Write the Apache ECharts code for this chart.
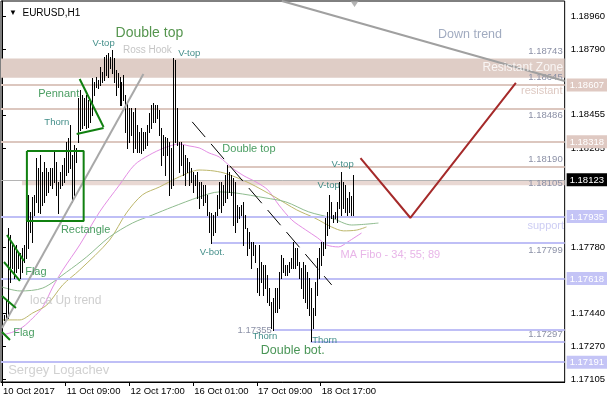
<!DOCTYPE html>
<html><head><meta charset="utf-8">
<script src="https://cdn.jsdelivr.net/npm/echarts@6/dist/echarts.min.js"></script>
<style>html,body{margin:0;padding:0;background:#fff}#c{width:610px;height:400px}</style>
</head><body><div id="c"></div>
<script>
// ---- data (hourly bars, EURUSD H1) ----
const highs = [
1.17438,1.17432,1.17509,1.17877,1.17841,1.17790,1.17775,1.17790,1.17754,1.17749,
1.17775,1.17790,1.18010,1.18046,1.17959,1.18035,1.18046,1.18235,1.18184,1.18250,
1.18163,1.18214,1.18184,1.18163,1.18184,1.18184,1.18265,1.18214,1.18112,1.18163,
1.18199,1.18235,1.18316,1.18337,1.18403,1.18250,1.18301,1.18286,1.18541,1.18582,
1.18557,1.18541,1.18557,1.18531,1.18521,1.18643,1.18623,1.18649,1.18633,1.18700,
1.18674,1.18751,1.18761,1.18771,1.18751,1.18786,1.18746,1.18684,1.18669,1.18649,
1.18623,1.18659,1.18557,1.18521,1.18490,1.18490,1.18470,1.18490,1.18403,1.18368,
1.18388,1.18368,1.18368,1.18403,1.18465,1.18505,1.18516,1.18505,1.18505,1.18480,
1.18388,1.18352,1.18342,1.18337,1.18316,1.18286,1.18746,1.18735,1.18490,1.18316,
1.18316,1.18301,1.18250,1.18235,1.18214,1.18184,1.18163,1.18148,1.18163,1.18112,
1.18112,1.18097,1.18097,1.18046,1.17959,1.17954,1.17943,1.17959,1.18046,1.18112,
1.18112,1.18097,1.18148,1.18199,1.18163,1.18148,1.18132,1.18112,1.17994,1.17984,
1.17994,1.18010,1.17943,1.17877,1.17857,1.17805,1.17805,1.17790,1.17673,1.17790,
1.17703,1.17688,1.17688,1.17637,1.17570,1.17499,1.17519,1.17570,1.17570,1.17652,
1.17739,1.17724,1.17688,1.17688,1.17703,1.17724,1.17805,1.17775,1.17775,1.17703,
1.17673,1.17703,1.17688,1.17652,1.17621,1.17570,1.17468,1.17601,1.17724,1.17775,
1.17805,1.17805,1.17928,1.17959,1.18046,1.18010,1.17943,1.17959,1.18010,1.18112,
1.18163,1.18112,1.18097,1.18030,1.18061,1.18040,1.18148
];
const lows = [
1.17402,1.17407,1.17417,1.17417,1.17601,1.17673,1.17621,1.17652,1.17673,1.17621,
1.17652,1.17703,1.17724,1.17775,1.17857,1.17805,1.17943,1.18010,1.17959,1.17954,
1.17994,1.18010,1.18046,1.18061,1.18097,1.18081,1.18112,1.18046,1.17954,1.18081,
1.18097,1.18112,1.18148,1.18163,1.18184,1.18010,1.18046,1.18214,1.18316,1.18378,
1.18388,1.18403,1.18388,1.18393,1.18419,1.18454,1.18557,1.18597,1.18592,1.18608,
1.18623,1.18633,1.18659,1.18649,1.18695,1.18669,1.18623,1.18557,1.18597,1.18505,
1.18505,1.18531,1.18368,1.18286,1.18316,1.18352,1.18265,1.18286,1.18265,1.18265,
1.18260,1.18276,1.18286,1.18301,1.18368,1.18388,1.18419,1.18419,1.18439,1.18352,
1.18199,1.18250,1.18148,1.18250,1.18046,1.18081,1.18097,1.18316,1.18301,1.18163,
1.18199,1.18148,1.18097,1.18163,1.18097,1.18112,1.18061,1.18097,1.18030,1.17979,
1.18030,1.17994,1.18010,1.17943,1.17857,1.17800,1.17841,1.17857,1.17943,1.17979,
1.17959,1.17994,1.18010,1.18030,1.18061,1.18046,1.17892,1.17857,1.17908,1.17928,
1.17943,1.17790,1.17877,1.17739,1.17775,1.17673,1.17739,1.17703,1.17550,1.17535,
1.17601,1.17535,1.17570,1.17499,1.17483,1.17366,1.17355,1.17448,1.17448,1.17468,
1.17621,1.17652,1.17637,1.17637,1.17652,1.17673,1.17673,1.17673,1.17688,1.17621,
1.17570,1.17519,1.17499,1.17468,1.17432,1.17297,1.17366,1.17432,1.17535,1.17621,
1.17688,1.17739,1.17775,1.17841,1.17877,1.17928,1.17908,1.17928,1.17908,1.17979,
1.17943,1.17979,1.17959,1.17943,1.17959,1.17943,1.17943
];
const dateLabels = ['10 Oct 2017','11 Oct 09:00','12 Oct 17:00','16 Oct 01:00','17 Oct 09:00','18 Oct 17:00'];
const dateTickIdx = [0,32,64,96,128,160];
const priceTicks = [1.18960,1.18790,1.18455,1.18285,1.17780,1.17440,1.17270,1.17105];
const boxLevels = [1.18607,1.18318,1.18123,1.17935,1.17618,1.17191];
const boxKinds  = ['pk','pk','bk','lv','lv','lv'];
const currentPrice = 1.18123;

// moving averages (34 / 55 / 89)
const ma34 = [[0,1.17330],[5.5,1.17345],[10.5,1.17371],[15.5,1.17417],[20.5,1.17473],[25.5,1.17575],[30.5,1.17662],[39,1.17790],[49,1.17959],[59,1.18097],[66.5,1.18199],[74,1.18250],[81.5,1.18286],[89,1.18306],[94,1.18296],[99,1.18286],[104,1.18260],[109,1.18240],[115.5,1.18184],[121.5,1.18143],[127.5,1.18112],[133.5,1.18071],[139,1.17994],[145.5,1.17918],[152.5,1.17867],[158.5,1.17826],[163,1.17790],[169,1.17780],[173.5,1.17805],[180.5,1.17851]];
const ma55 = [[0,1.17407],[9,1.17407],[15.5,1.17443],[22.5,1.17483],[30.5,1.17586],[39,1.17662],[54,1.17815],[62.5,1.17954],[70.5,1.18046],[79,1.18086],[89,1.18138],[99,1.18173],[106.5,1.18168],[113,1.18153],[124,1.18107],[137,1.18035],[148,1.17969],[157,1.17928],[165.5,1.17882],[171.5,1.17862],[178,1.17866],[183,1.17882]];
const ma89 = [[0,1.17575],[9,1.17555],[20.5,1.17570],[32.5,1.17652],[42.5,1.17729],[54,1.17831],[65.5,1.17902],[75.5,1.17943],[85.5,1.17984],[99,1.18035],[109,1.18061],[117,1.18056],[132.5,1.18030],[142.5,1.18010],[154,1.17959],[165.5,1.17928],[175.5,1.17892],[189,1.17902]];

// horizontal levels
const resistZone = [1.18743, 1.18645];
const resistLevels = [1.18607, 1.18486, 1.18318, 1.18190];
const resistFrom   = [null, null, null, 113];
const bandLevel = [1.18120, 1.18095];   // thick band under 1.18105
const bandMid = 1.18105;
const bandFrom = 10;
const supportLevels = [1.17935, 1.17799, 1.17618, 1.17355, 1.17297, 1.17191];
const supportFrom   = [null, 105.5, null, 136.5, 155, null];

// drawn figures (bar index, price)
const flagLines = [[[2.5,1.17841],[11,1.17708]],[[1,1.17703],[9,1.17606]],[[0,1.17529],[7,1.17468]],[[0,1.17345],[4,1.17304]]];
const pennantLines = [[[39,1.18638],[51,1.18393]],[[37.5,1.18357],[51,1.18388]]];
const rectangleBox = [[12.5,1.18270],[41,1.17913]];
const upTrend = [[0,1.17366],[71,1.18664]];
const downTrend = [[140.5,1.19037],[282.5,1.18628]];
const forecast = [[180,1.18234],[205,1.17929],[258,1.18618]];
const slopeLine = [[95.5,1.18419],[165.5,1.17586]];
const shiftMarker = [177, 1.19022];

// text annotations: text, bar index, price, style key
const notes = [
 ['Double top',74,1.18873,'big'],
 ['Ross Hook',73,1.18786,'gray10'],
 ['V-top',51,1.18822,'teal'],
 ['V-top',94,1.18771,'teal'],
 ['Pennant',28.5,1.18562,'grn'],
 ['Thorn',27.5,1.18419,'teal'],
 ['Rectangle',42,1.17866,'grn'],
 ['Flag',17,1.17652,'grn'],
 ['Flag',11,1.17340,'grn'],
 ['loca Up trend',32,1.17504,'gray12'],
 ['Sergey Logachev',28.5,1.17151,'sig'],
 ['Double top',124,1.18281,'grn'],
 ['V-top',171,1.18204,'teal'],
 ['V-top',164,1.18097,'teal'],
 ['V-bot.',105.5,1.17754,'teal'],
 ['Thorn',132,1.17325,'teal'],
 ['Thorn',162,1.17304,'teal'],
 ['Double bot.',146,1.17248,'grn13'],
 ['MA Fibo - 34; 55; 89',195,1.17739,'ma'],
 ['support',273,1.17887,'sup'],
 ['resistant',271,1.18577,'res'],
 ['Resistant Zone',261.5,1.18695,'white'],
 ['Down trend',235,1.18863,'down']
];
const levelLabels = {1.18743:'insideEndTop',1.18645:'insideEnd',1.18486:'insideEndBottom',1.18190:'insideEndTop',1.18105:'insideEnd',1.17799:'insideEndBottom',1.17355:'start',1.17297:'insideEndTop'};

// ---- styles ----
const FF = 'Liberation Sans';
const X_MIN = -0.5, X_MAX = 282.5;
const Y_MIN = 1.170897, Y_MAX = 1.190367;
const noteStyles = {
 big:{color:'#2a7a22',fontSize:14}, teal:{color:'#12706a',fontSize:9.5}, grn:{color:'#1c843a',fontSize:11},
 gray10:{color:'#b6b6b6',fontSize:10}, gray12:{color:'#c2c2c2',fontSize:12}, sig:{color:'#c6c6c6',fontSize:13},
 grn13:{color:'#1c7a2c',fontSize:12.5}, ma:{color:'#e2a2e2',fontSize:11}, sup:{color:'#c0c0f0',fontSize:11},
 res:{color:'#d4bab2',fontSize:11}, white:{color:'#ffffff',fontSize:12}, down:{color:'#8a96b0',fontSize:12.5}
};
const PINK = '#dcc7bf', LAV = '#bfbff6';
function lvlLabel(p){
  const pos = levelLabels[p];
  if (!pos) return {show:false};
  return {show:true, position:pos, formatter:p.toFixed(5), color:'#8b90a6', fontSize:9.5, fontFamily:FF, distance:2, opacity:1};
}
function hline(p, from, lineStyle){
  return [{coord:[from == null ? X_MIN : from, p], lineStyle, label:lvlLabel(p)}, {coord:[X_MAX, p]}];
}
const levelData = [];
resistLevels.forEach((p,k)=>levelData.push(hline(p, resistFrom[k], {color:PINK, width:2, type:'solid'})));
supportLevels.forEach((p,k)=>levelData.push(hline(p, supportFrom[k], {color:LAV, width:2, type:'solid'})));
levelData.push([{coord:[X_MIN,currentPrice], lineStyle:{color:'#b4b4b4',width:1,type:'solid'}, label:{show:false}},{coord:[X_MAX,currentPrice]}]);
// labels for zone edges & band (their lines are the shaded areas)
[resistZone[0], resistZone[1], bandMid].forEach(p=>levelData.push(hline(p, null, {color:'rgba(0,0,0,0)', width:1, type:'solid'})));

function lineSeries(data, color, width, extra){
  return Object.assign({type:'line', data, symbol:'none', silent:true, animation:false, z:6,
    lineStyle:{color, width}}, extra||{});
}
const series = [];
series.push({
  type:'line', data:[[X_MIN, Y_MIN]], symbol:'none', silent:true, animation:false, z:1,
  lineStyle:{opacity:0},
  markArea:{silent:true, data:[
    [{coord:[X_MIN,resistZone[0]], itemStyle:{color:'#dfcdc6'}},{coord:[X_MAX,resistZone[1]]}],
    [{coord:[bandFrom,bandLevel[0]], itemStyle:{color:'#e9d8d3'}},{coord:[X_MAX,bandLevel[1]]}]
  ]},
  markLine:{silent:true, symbol:['none','none'], animation:false, data:levelData}
});
// MAs
series.push(lineSeries(ma34,'#e48ee4',1,{smooth:0.3,z:3}));
series.push(lineSeries(ma55,'#bdb76b',1,{smooth:0.3,z:3}));
series.push(lineSeries(ma89,'#8fbc8f',1,{smooth:0.3,z:3}));
// price bars
series.push({
  type:'custom', z:5, silent:true, animation:false,
  data: highs.map((h,k)=>[k,h,lows[k]]),
  encode:{x:0, y:[1,2]},
  renderItem(params, api){
    const a = api.coord([api.value(0), api.value(1)]);
    const b = api.coord([api.value(0), api.value(2)]);
    const x = Math.round(a[0]) + 0.5;
    return {type:'line', shape:{x1:x, y1:Math.round(a[1]), x2:x, y2:Math.round(b[1])+1}, style:{stroke:'#000', lineWidth:1}};
  }
});
// trend lines and figures
series.push(lineSeries(upTrend,'#a8a8a8',2));
series.push(lineSeries(downTrend,'#a0a0a0',2));
series.push(lineSeries(slopeLine,'#000',1,{lineStyle:{color:'#000',width:1,type:[20,9]}}));
series.push(lineSeries(forecast,'#a52a2a',2,{z:7}));
flagLines.concat(pennantLines).forEach(l=>series.push(lineSeries(l,'#108010',2,{z:7})));
const r = rectangleBox;
series.push(lineSeries([[r[0][0],r[0][1]],[r[1][0],r[0][1]],[r[1][0],r[1][1]],[r[0][0],r[1][1]],[r[0][0],r[0][1]]],'#108010',2,{z:7}));
// shift marker
series.push({type:'scatter', data:[shiftMarker], symbol:'triangle', symbolRotate:180, symbolSize:[8,6],
  itemStyle:{color:'#a0a0a0'}, silent:true, animation:false, z:8});
// text notes
series.push({
  type:'scatter', z:10, silent:true, animation:false, symbolSize:1, itemStyle:{color:'rgba(0,0,0,0)'},
  data: notes.map(n=>({value:[n[1],n[2]], label:Object.assign({show:true, position:'inside', formatter:n[0], fontFamily:FF}, noteStyles[n[3]])}))
});

const chart = echarts.init(document.getElementById('c'), null, {renderer:'canvas'});
chart.setOption({
  animation:false,
  backgroundColor:'#fff',
  title:{text:'{a|▼}  EURUSD,H1', left:4, top:3, textStyle:{fontSize:10, fontWeight:'normal', color:'#000', fontFamily:FF, rich:{a:{fontSize:8,color:'#000'}}}},
  grid:{left:1, right:43, top:1, bottom:18, show:true, borderColor:'#000', borderWidth:1, containLabel:false},
  xAxis:{type:'value', min:X_MIN, max:X_MAX, splitLine:{show:false},
    axisLine:{show:true, lineStyle:{color:'#000'}},
    axisTick:{show:true, length:4, customValues:dateTickIdx, lineStyle:{color:'#000'}},
    axisLabel:{customValues:dateTickIdx, formatter:v=>dateLabels[dateTickIdx.indexOf(v)], align:'left', margin:4, padding:[0,0,0,1], fontSize:9.5, color:'#000', fontFamily:FF}},
  yAxis:[
    {type:'value', position:'right', min:Y_MIN, max:Y_MAX, splitLine:{show:false},
      axisLine:{show:true, lineStyle:{color:'#000'}},
      axisTick:{show:true, length:4, customValues:priceTicks, lineStyle:{color:'#000'}},
      axisLabel:{customValues:priceTicks, formatter:v=>v.toFixed(5), margin:6, fontSize:9.5, color:'#000', fontFamily:FF}},
    {type:'value', position:'right', min:Y_MIN, max:Y_MAX, splitLine:{show:false},
      axisLine:{show:false}, axisTick:{show:false},
      axisLabel:{customValues:boxLevels, margin:2,
        formatter:v=>'{'+boxKinds[boxLevels.indexOf(v)]+'|'+v.toFixed(5)+'}',
        rich:{
          pk:{backgroundColor:'#dfc9c2', color:'#fff', padding:[2,3,1,3], fontSize:9.5, fontFamily:FF},
          bk:{backgroundColor:'#000', color:'#fff', padding:[2,3,1,3], fontSize:9.5, fontFamily:FF},
          lv:{backgroundColor:'#c4c4f6', color:'#fff', padding:[2,3,1,3], fontSize:9.5, fontFamily:FF}
        }}}
  ],
  series
});
</script></body></html>
